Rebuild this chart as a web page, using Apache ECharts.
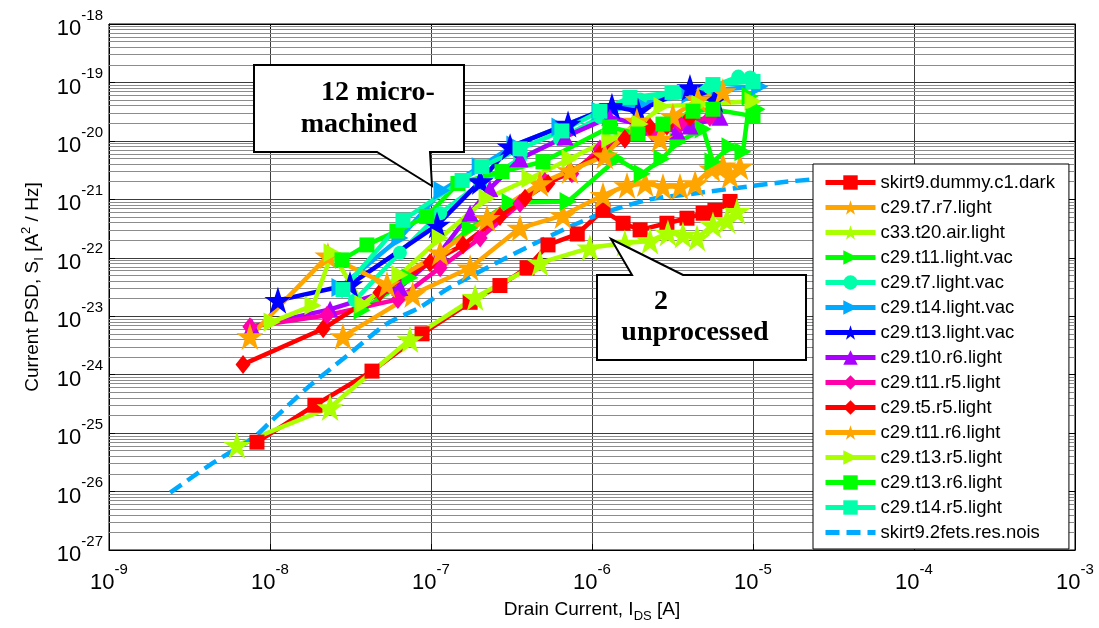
<!DOCTYPE html>
<html>
<head>
<meta charset="utf-8">
<title>Current PSD vs drain current</title>
<script src="https://cdn.jsdelivr.net/npm/echarts@6/dist/echarts.min.js"></script>
<style>
html, body { margin: 0; padding: 0; background: #fff; }
#psd-box { width: 1099px; height: 628px; }
</style>
</head>
<body>
<div id="psd-box"></div>
<script>
// points are [drain current I_DS (A), current PSD S_I (A^2/Hz)]
var skirt9DummyC1Dark = [[8.3e-9,7.0e-26],[1.9e-8,3.0e-25],[4.3e-8,1.15e-24],[8.8e-8,5.0e-24],[1.75e-7,1.73e-23],[2.68e-7,3.35e-23],[3.95e-7,6.75e-23],[5.33e-7,1.66e-22],[8.1e-7,2.55e-22],[1.17e-6,6.5e-22],[1.56e-6,3.9e-22],[1.99e-6,3.0e-22],[2.92e-6,3.9e-22],[3.89e-6,4.75e-22],[4.9e-6,5.78e-22],[5.8e-6,6.5e-22],[7.2e-6,9.2e-22]];
var c29T7R7Light = [[2.84e-8,4.48e-24],[7.7e-8,2.36e-23],[1.75e-7,6.75e-23],[3.57e-7,3.22e-22],[6.6e-7,5.3e-22],[1.17e-6,1.17e-21],[1.65e-6,1.73e-21],[2.14e-6,1.87e-21],[2.76e-6,1.66e-21],[3.52e-6,1.66e-21],[4.37e-6,1.87e-21],[5.56e-6,3.35e-21],[6.5e-6,3.76e-21],[7.2e-6,2.55e-21],[8.3e-6,3.62e-21]];
var c33T20AirLight = [[6.23e-9,6.2e-26],[2.36e-8,2.75e-25],[7.4e-8,4.0e-24],[1.88e-7,2.1e-23],[4.75e-7,8.2e-23],[9.7e-7,1.48e-22],[1.6e-6,1.79e-22],[2.29e-6,1.94e-22],[2.96e-6,2.65e-22],[3.67e-6,2.45e-22],[4.49e-6,2.18e-22],[5.64e-6,3.62e-22],[6.89e-6,4.4e-22],[7.95e-6,6.25e-22]];
var c29T11LightVac = [[3.73e-8,1.26e-23],[7.4e-8,4.57e-23],[1.75e-7,3.22e-22],[3.1e-7,8.85e-22],[7.1e-7,9.2e-22],[1.43e-6,4.95e-21],[2.05e-6,2.75e-21],[2.72e-6,4.95e-21],[3.42e-6,9.6e-21],[4.9e-6,1.6e-20],[5.64e-6,4.39e-21],[7.2e-6,7.9e-21],[8.66e-6,6.5e-21],[9.6e-6,5.78e-20],[1.06e-5,3.48e-20]];
var c29T7LightVac = [[3.37e-8,1.87e-23],[6.41e-8,1.22e-22],[1.14e-7,5.78e-22],[2.02e-7,1.87e-21],[3.57e-7,4.95e-21],[6.32e-7,1.08e-20],[1.12e-6,2.55e-20],[1.99e-6,5.1e-20],[3.52e-6,6.75e-20],[5.4e-6,8.2e-20],[8.1e-6,1.26e-19],[9.6e-6,1.22e-19]];
var c29T14LightVac = [[2.72e-8,3.1e-23],[6.41e-8,2.18e-22],[1.17e-7,1.42e-21],[2.02e-7,3.62e-21],[3.32e-7,8.5e-21],[6.32e-7,1.73e-20],[1.12e-6,3.22e-20],[1.99e-6,4.23e-20],[4.06e-6,6.25e-20],[6.23e-6,7.6e-20],[1.1e-5,8.5e-20]];
var c29T13LightVac = [[1.12e-8,1.87e-23],[3.14e-8,3.48e-23],[1.09e-7,3.62e-22],[2.02e-7,2.02e-21],[3.1e-7,7.9e-21],[7.1e-7,1.94e-20],[1.33e-6,3.9e-20],[1.93e-6,3.22e-20],[4.06e-6,8.2e-20],[5.8e-6,5.1e-20]];
var c29T10R6Light = [[7.7e-9,6.6e-24],[2.36e-8,1.31e-23],[6.41e-8,3.1e-23],[1.14e-7,1.22e-22],[1.75e-7,5.78e-22],[2.32e-7,1.53e-21],[3.57e-7,4.95e-21],[6.8e-7,1.17e-20],[1.29e-6,2.55e-20],[2.29e-6,1.73e-20],[3.37e-6,1.48e-20],[4.06e-6,1.79e-20],[6.23e-6,2.55e-20]];
var c29T11R5Light = [[7.5e-9,6.6e-24],[2.26e-8,1.04e-23],[6.23e-8,1.94e-23],[1.14e-7,6.75e-23],[2.02e-7,2.18e-22],[3.57e-7,8.5e-22],[5.1e-7,2.02e-21],[7.5e-7,2.75e-21],[1.12e-6,7.3e-21],[1.6e-6,1.08e-20],[2.36e-6,1.42e-20],[3.52e-6,1.94e-20],[5.4e-6,2.55e-20]];
var c29T5R5Light = [[6.8e-9,1.5e-24],[2.14e-8,6.1e-24],[4.82e-8,2.55e-23],[9.86e-8,8.2e-23],[1.58e-7,1.66e-22],[2.68e-7,5.1e-22],[3.84e-7,1.04e-21],[5.33e-7,1.87e-21],[7.3e-7,2.98e-21],[1.12e-6,6.0e-21],[1.6e-6,1.08e-20],[2.29e-6,1.73e-20],[2.92e-6,1.79e-20],[4.06e-6,2.55e-20]];
var c29T11R6Light = [[7.5e-9,4.48e-24],[2.29e-8,1.08e-22],[5.33e-8,3.48e-23],[1.14e-7,1.22e-22],[2.23e-7,4.75e-22],[4.75e-7,1.87e-21],[7.3e-7,3.1e-21],[1.2e-6,5.55e-21],[1.9e-6,2.18e-20],[2.64e-6,1.08e-20],[3.18e-6,2.65e-20],[4.55e-6,5.1e-20],[6.5e-6,7.0e-20]];
var c29T13R5Light = [[1.03e-8,8.0e-24],[1.85e-8,1.53e-23],[2.43e-8,1.22e-22],[3.78e-8,1.6e-23],[6.41e-8,5.1e-23],[1.14e-7,2.18e-22],[2.23e-7,1.04e-21],[4.12e-7,2.27e-21],[7.3e-7,4.95e-21],[1.29e-6,1.08e-20],[1.99e-6,1.94e-20],[2.72e-6,3.9e-20],[4.68e-6,4.23e-20],[1.0e-5,4.75e-20]];
var c29T13R6Light = [[2.8e-8,9.2e-23],[4.0e-8,1.66e-22],[6.14e-8,2.86e-22],[9.4e-8,5.1e-22],[1.47e-7,1.87e-21],[2.76e-7,2.98e-21],[4.96e-7,4.39e-21],[1.29e-6,1.73e-20],[1.93e-6,1.31e-20],[2.76e-6,1.94e-20],[4.24e-6,3.22e-20],[5.64e-6,3.48e-20],[1.0e-5,2.65e-20]];
var c29T14R5Light = [[2.84e-8,2.86e-23],[6.7e-8,4.39e-22],[1.56e-7,2.1e-21],[2.07e-7,3.62e-21],[3.57e-7,7.3e-21],[6.5e-7,1.48e-20],[1.12e-6,3.22e-20],[1.72e-6,5.55e-20],[3.14e-6,6.75e-20],[5.64e-6,9.2e-20],[1.0e-5,1.04e-19]];
var skirt9FetsResNois = [[2.4e-9,9.6e-27],[4.24e-9,2.86e-26],[7.8e-9,8.2e-26],[1.0e-8,1.53e-25],[1.77e-8,6.5e-25],[3.14e-8,2.31e-24],[5.33e-8,7.45e-24],[8.54e-8,1.42e-23],[1.31e-7,3.1e-23],[4.75e-7,1.94e-22],[1.07e-6,5.3e-22],[2.29e-6,1.0e-21],[3.52e-6,1.17e-21],[1.47e-5,1.94e-21],[2.32e-5,2.18e-21],[5e-5,2.5e-21]];

var seriesNames = ['skirt9.dummy.c1.dark', 'c29.t7.r7.light', 'c33.t20.air.light', 'c29.t11.light.vac',
  'c29.t7.light.vac', 'c29.t14.light.vac', 'c29.t13.light.vac', 'c29.t10.r6.light', 'c29.t11.r5.light',
  'c29.t5.r5.light', 'c29.t11.r6.light', 'c29.t13.r5.light', 'c29.t13.r6.light', 'c29.t14.r5.light',
  'skirt9.2fets.res.nois'];
var xTickExponents = [-9, -8, -7, -6, -5, -4, -3];
var yTickExponents = [-27, -26, -25, -24, -23, -22, -21, -20, -19, -18];

// echarts rounds log ticks to 20 decimals, so the psd axis works in units of 1e-27 A^2/Hz
var Y_UNIT_EXP = -27;

var STAR = 'path://M50,2 L61.8,38 L99,38 L69,60 L80.5,97 L50,74 L19.5,97 L31,60 L1,38 L38.2,38 Z';
var RIGHT_TRI = 'path://M0,0 L100,50 L0,100 Z';
var SANS = '"Liberation Sans", Arial, sans-serif';
var SERIF = '"Liberation Serif", "Times New Roman", serif';

function toUnits(points) {
  return points.map(function (p) { return [p[0], p[1] / Math.pow(10, Y_UNIT_EXP)]; });
}

function markSeries(name, data, color, symbol, size) {
  return {
    name: name,
    type: 'line',
    data: toUnits(data),
    symbol: symbol,
    symbolSize: size,
    showAllSymbol: true,
    lineStyle: { color: color, width: 4.5 },
    itemStyle: { color: color, borderWidth: 0 },
    emphasis: { disabled: true }
  };
}

// thin lines at 2..9 of every decade, like the matlab minor grid
var minorLines = [];
for (var ex = xTickExponents[0]; ex < xTickExponents[xTickExponents.length - 1]; ex++) {
  for (var m = 2; m <= 9; m++) minorLines.push({ xAxis: m * Math.pow(10, ex) });
}
for (var ey = yTickExponents[0]; ey < yTickExponents[yTickExponents.length - 1]; ey++) {
  for (var k = 2; k <= 9; k++) minorLines.push({ yAxis: k * Math.pow(10, ey - Y_UNIT_EXP) });
}

function powRichText(e) {
  return '{b|10}{s|' + e + '}';
}
var powRich = {
  b: { fontSize: 22, lineHeight: 32, verticalAlign: 'bottom', fontFamily: SANS, color: '#000' },
  s: { fontSize: 15, lineHeight: 14, verticalAlign: 'top', fontFamily: SANS, color: '#000' }
};

var xMin = Math.pow(10, xTickExponents[0]);
var xMax = Math.pow(10, xTickExponents[xTickExponents.length - 1]);
var yMin = Math.pow(10, yTickExponents[0] - Y_UNIT_EXP);
var yMax = Math.pow(10, yTickExponents[yTickExponents.length - 1] - Y_UNIT_EXP);

function mirrorAxis(position, min, max, splits) {
  // tick-only copy on the top / right edge of the box
  return {
    type: 'log', logBase: 10, position: position, min: min, max: max, splitNumber: splits,
    axisLine: { lineStyle: { color: '#000' } },
    axisTick: { inside: true, length: 6, lineStyle: { color: '#000' } },
    axisLabel: { show: false },
    splitLine: { show: false }
  };
}

let chartDom = document.getElementById('psd-box');
var psdChart = echarts.init(chartDom, null, { renderer: 'canvas' });
let psdOption = {
  animation: false,
  backgroundColor: '#fff',
  grid: { left: 109, right: 24, top: 24, bottom: 72, show: true, borderColor: '#000', borderWidth: 1 },
  xAxis: [{
    type: 'log',
    logBase: 10,
    min: xMin,
    max: xMax,
    splitNumber: xTickExponents.length - 1,
    name: '{n|Drain Current, I}{sub|DS}{n| [A]}',
    nameLocation: 'middle',
    nameGap: 47,
    nameTextStyle: {
      rich: {
        n: { fontSize: 19, lineHeight: 26, fontFamily: SANS, color: '#000' },
        sub: { fontSize: 13, lineHeight: 13, verticalAlign: 'bottom', fontFamily: SANS, color: '#000' }
      }
    },
    axisLine: { lineStyle: { color: '#000' } },
    axisTick: { inside: true, length: 6, lineStyle: { color: '#000' } },
    axisLabel: {
      margin: 12,
      formatter: function (v) { return powRichText(Math.round(Math.log10(v))); },
      rich: powRich
    },
    splitLine: { show: true, lineStyle: { color: '#3c3c3c', width: 1 } }
  }, mirrorAxis('top', xMin, xMax, xTickExponents.length - 1)],
  yAxis: [{
    type: 'log',
    logBase: 10,
    min: yMin,
    max: yMax,
    splitNumber: yTickExponents.length - 1,
    name: '{n|Current PSD, S}{sub|I}{n| [A}{sup|2}{n| / Hz]}',
    nameLocation: 'middle',
    nameGap: 59,
    nameTextStyle: {
      rich: {
        n: { fontSize: 19, lineHeight: 26, fontFamily: SANS, color: '#000' },
        sub: { fontSize: 13, lineHeight: 13, verticalAlign: 'bottom', fontFamily: SANS, color: '#000' },
        sup: { fontSize: 13, lineHeight: 13, verticalAlign: 'top', fontFamily: SANS, color: '#000' }
      }
    },
    axisLine: { lineStyle: { color: '#000' } },
    axisTick: { inside: true, length: 6, lineStyle: { color: '#000' } },
    axisLabel: {
      margin: 6,
      formatter: function (v) { return powRichText(Math.round(Math.log10(v)) + Y_UNIT_EXP); },
      rich: powRich
    },
    splitLine: { show: true, lineStyle: { color: '#3c3c3c', width: 1 } }
  }, mirrorAxis('right', yMin, yMax, yTickExponents.length - 1)],
  legend: {
    data: seriesNames.map(function (n, i) {
      return i === seriesNames.length - 1 ? { name: n, itemStyle: { opacity: 0 } } : n;
    }),
    orient: 'vertical',
    left: 813,
    top: 164,
    z: 10,
    padding: [9, 14, 7, 10],
    itemWidth: 50,
    itemHeight: 18,
    itemGap: 6,
    backgroundColor: '#fff',
    borderColor: '#000',
    borderWidth: 1,
    borderRadius: 0,
    selectedMode: false,
    lineStyle: { width: 5 },
    textStyle: { fontSize: 18.5, lineHeight: 18, fontFamily: SANS, color: '#000' }
  },
  series: [
    {
      name: 'minor-grid',
      type: 'line',
      data: [],
      silent: true,
      z: 1,
      markLine: {
        silent: true,
        z: 1,
        symbol: ['none', 'none'],
        label: { show: false },
        lineStyle: { color: '#8c8c8c', width: 1, type: 'solid' },
        emphasis: { disabled: true },
        animation: false,
        data: minorLines
      }
    },
    markSeries(seriesNames[0], skirt9DummyC1Dark, '#FF0000', 'rect', 15),
    markSeries(seriesNames[1], c29T7R7Light, '#FFA500', STAR, 27),
    markSeries(seriesNames[2], c33T20AirLight, '#AAFF00', STAR, 27),
    markSeries(seriesNames[3], c29T11LightVac, '#00FF00', RIGHT_TRI, [17, 19]),
    markSeries(seriesNames[4], c29T7LightVac, '#00FFAA', 'circle', 14),
    markSeries(seriesNames[5], c29T14LightVac, '#00AAFF', RIGHT_TRI, [17, 19]),
    markSeries(seriesNames[6], c29T13LightVac, '#0000FF', STAR, 27),
    markSeries(seriesNames[7], c29T10R6Light, '#AA00FF', 'triangle', 17),
    markSeries(seriesNames[8], c29T11R5Light, '#FF00AA', 'diamond', [15, 19]),
    markSeries(seriesNames[9], c29T5R5Light, '#FF0000', 'diamond', [15, 19]),
    markSeries(seriesNames[10], c29T11R6Light, '#FFA500', STAR, 27),
    markSeries(seriesNames[11], c29T13R5Light, '#AAFF00', RIGHT_TRI, [17, 19]),
    markSeries(seriesNames[12], c29T13R6Light, '#00FF00', 'rect', 15),
    markSeries(seriesNames[13], c29T14R5Light, '#00FFAA', 'rect', 15),
    {
      name: seriesNames[14],
      type: 'line',
      data: toUnits(skirt9FetsResNois),
      symbol: 'none',
      smooth: 0.3,
      lineStyle: { color: '#00AAFF', width: 4.5, type: [14, 7] },
      itemStyle: { color: '#00AAFF' },
      emphasis: { disabled: true }
    }
  ],
  graphic: [
    {
      type: 'polygon', z: 100,
      shape: { points: [[254, 65], [464, 65], [464, 152], [430, 152], [432, 186], [377, 152], [254, 152]] },
      style: { fill: '#fff', stroke: '#000', lineWidth: 2 }
    },
    { type: 'text', z: 101, x: 378, y: 93, style: { text: '12 micro-', fontSize: 28, fontWeight: 'bold', fontFamily: SERIF, fill: '#000', textAlign: 'center', textVerticalAlign: 'middle' } },
    { type: 'text', z: 101, x: 359, y: 125, style: { text: 'machined', fontSize: 28, fontWeight: 'bold', fontFamily: SERIF, fill: '#000', textAlign: 'center', textVerticalAlign: 'middle' } },
    {
      type: 'polygon', z: 100,
      shape: { points: [[597, 275], [632, 275], [611, 239], [683, 275], [806, 275], [806, 360], [597, 360]] },
      style: { fill: '#fff', stroke: '#000', lineWidth: 2 }
    },
    { type: 'text', z: 101, x: 661, y: 302, style: { text: '2', fontSize: 28, fontWeight: 'bold', fontFamily: SERIF, fill: '#000', textAlign: 'center', textVerticalAlign: 'middle' } },
    { type: 'text', z: 101, x: 695, y: 333, style: { text: 'unprocessed', fontSize: 28, fontWeight: 'bold', fontFamily: SERIF, fill: '#000', textAlign: 'center', textVerticalAlign: 'middle' } }
  ]
};
psdOption && psdChart.setOption(psdOption);
</script>
</body>
</html>
